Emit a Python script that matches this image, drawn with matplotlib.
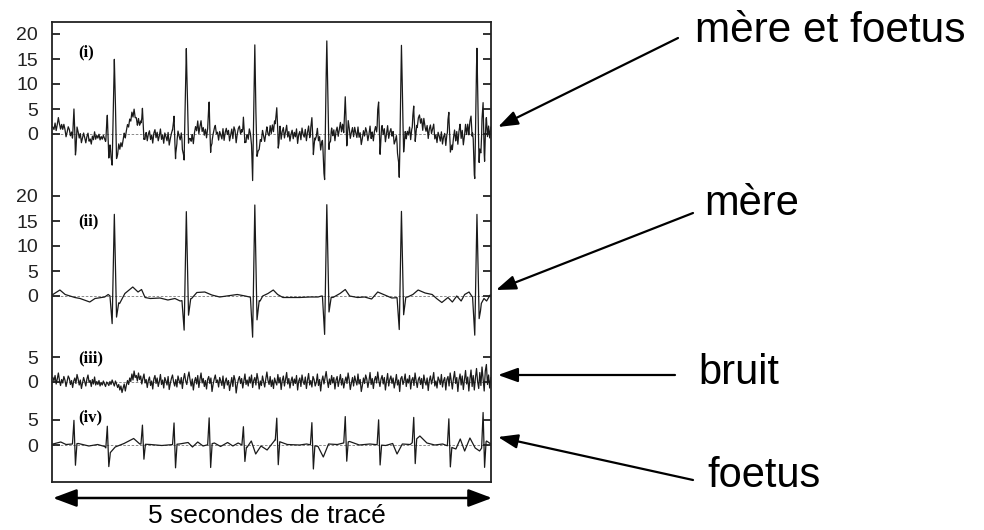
import numpy as np
import matplotlib
matplotlib.use('Agg')
import matplotlib.pyplot as plt

plt.rcParams['font.family'] = ['Liberation Sans', 'DejaVu Sans']

# Battements maternels : instant (s), pic R, creux Q et S
mere_t = [0.71, 1.53, 2.31, 3.13, 3.98, 4.84]
mere_r = [17.0, 17.6, 18.8, 18.4, 17.2, 17.4]
mere_q = [-5.2, -6.0, -7.8, -7.6, -6.4, -7.2]
mere_s = [-3.2, -3.2, -4.0, -3.0, -3.5, -3.0]

# Ligne de base maternelle (dérive lente)
mere_base_t = [0.01, 0.09, 0.15, 0.26, 0.32, 0.43, 0.49, 0.60, 0.64, 0.77,
               0.83, 0.92, 0.98, 1.02, 1.06, 1.12, 1.23, 1.32, 1.40, 1.46,
               1.59, 1.65, 1.74, 1.82, 1.91, 2.03, 2.11, 2.20, 2.25, 2.37,
               2.40, 2.46, 2.52, 2.57, 2.63, 2.71, 2.82, 2.94, 3.03, 3.07,
               3.20, 3.28, 3.34, 3.39, 3.48, 3.56, 3.64, 3.71, 3.79, 3.87,
               4.05, 4.11, 4.17, 4.25, 4.33, 4.38, 4.44, 4.51, 4.56, 4.61,
               4.66, 4.70, 4.75, 4.78, 4.88, 4.92, 4.95, 4.99]
mere_base_y = [0.3, 1.2, 0.3, -0.3, -0.5, -1.2, -0.5, -0.2, 0.3, -1.5,
               0.5, 1.8, 0.8, 1.3, -0.3, -0.5, -0.4, -0.8, -0.5, -1.0,
               -0.5, 0.7, 0.8, 0.2, -0.2, 0.1, 0.3, 0.0, -0.2, -1.0,
               0.0, 0.5, 1.2, 0.3, -0.3, -0.3, -0.3, -0.2, -0.2, 0.0,
               -0.3, 0.5, 1.3, 0.0, -0.3, -0.2, -0.6, 0.8, 0.2, -0.4,
               -0.2, 0.3, 1.2, 0.6, 0.3, -0.5, -1.3, -0.3, -1.2, 0.0,
               -1.0, 0.3, 0.8, 0.0, -1.8, -0.5, -1.0, 0.2]

# Battements foetaux : instant (s), pic R, creux S
foetus_t = [0.25, 0.63, 1.03, 1.39, 1.79, 2.18, 2.56, 2.96, 3.34, 3.72,
            4.12, 4.52, 4.91]
foetus_r = [4.7, 4.7, 3.8, 4.3, 5.3, 3.8, 4.5, 4.5, 5.2, 5.0, 4.8, 5.5, 6.7]
foetus_s = [-4.3, -3.0, -3.0, -4.7, -4.7, -3.0, -4.7, -4.7, -3.8, -4.0,
            -4.7, -4.0, -4.7]

foetus_base_t = [0.01, 0.10, 0.16, 0.30, 0.42, 0.52, 0.60, 0.66, 0.72, 0.82,
                 0.93, 1.00, 1.12, 1.25, 1.45, 1.55, 1.60, 1.66, 1.72, 1.85,
                 1.92, 2.00, 2.06, 2.12, 2.22, 2.27, 2.32, 2.38, 2.45, 2.54,
                 2.68, 2.82, 2.90, 3.03, 3.09, 3.15, 3.25, 3.39, 3.50, 3.62,
                 3.80, 3.88, 3.93, 3.99, 4.08, 4.19, 4.27, 4.36, 4.45, 4.60,
                 4.65, 4.70, 4.76, 4.82, 4.87, 4.95, 4.99]
foetus_base_y = [0.2, 0.6, 0.1, 0.3, -0.2, 0.1, -0.3, -1.6, -0.4, 0.3,
                 1.3, 0.2, 0.1, -0.1, 0.2, 0.5, -0.4, 0.6, -0.2, 0.4,
                 -0.3, 0.5, -0.2, 0.4, -0.5, 0.8, -1.8, -0.2, -1.0, 1.0,
                 0.1, 0.0, 0.2, -0.3, -2.4, 0.2, 0.1, 0.7, 0.0, 0.2,
                 -0.1, 0.3, -1.8, 0.2, 0.1, 1.8, 0.4, 0.0, 0.2, -0.8,
                 1.2, -1.2, 1.4, -0.6, -1.2, 0.8, 0.3]

# Bruit, un échantillon toutes les 12,5 ms à partir de 10 ms
bruit = [0.9, 0.2, 1.3, -0.4, 0.6, 1.8, 0.3, -0.7, 0.5, -0.2, 1.1, 0.4, -0.9, 0.1, 1.2, 0.7, -0.5, 0.3, -1.1, 0.2,
         0.8, -0.3, 1.5, 0.6, -0.6, 0.4, -1.3, -0.2, 0.9, 0.1, -0.8, 0.6, 1.4, -0.1, 0.3, -0.9, 0.5, -0.4, 1.0, -0.6,
         0.1, -0.5, 0.3, -0.8, -0.1, -0.6, 0.2, -0.4, -0.9, 0.0, -0.3, -0.7, 0.1, -0.5, 0.4, -0.2, -0.8, 0.2, -0.4, -1.1,
         -0.5, -1.6, -0.8, -2.1, -1.2, -0.4, -1.8, -0.6, 0.3, -0.5, 0.8, 0.1, 1.6, 0.4, 2.2, 0.9, 1.3, 0.2, 1.8, 0.5,
         1.2, -0.4, 0.7, 1.6, -0.2, 0.5, -1.1, 0.3, 1.0, -0.7, 0.2, -1.4, 0.6, 1.3, -0.3, 0.8, -0.9, 0.1, 1.5, -0.5,
         0.4, -1.2, 0.9, 0.2, -0.6, 1.1, -1.5, -0.3, 0.7, 1.4, 0.0, -0.8, 0.5, -1.0, 1.2, 0.3, -0.4, 0.9, -1.3, 0.6,
         1.7, 0.2, -0.5, 1.0, 2.0, 0.4, -0.8, 0.6, -1.6, 0.1, 0.9, -0.4, 1.3, -1.1, 0.5, 1.8, -0.2, 0.7, -0.9, 0.3,
         -1.4, 0.5, 1.1, -0.3, 0.8, -1.9, -0.5, 0.6, 1.4, -0.1, 0.4, -1.0, 0.9, 0.2, -0.7, 1.2, -1.3, 0.1, 0.8, -0.6,
         0.3, -1.7, -0.4, 0.9, -0.9, 1.3, 0.4, -2.2, -0.6, 0.5, 1.1, -0.3, 0.7, -1.2, 0.2, 1.6, -0.5, 0.4, -0.8, 1.0,
         -0.2, 1.4, -1.1, 0.3, 0.9, -0.6, 1.7, 0.5, -1.4, 0.2, -0.7, 1.2, 0.1, -1.0, 0.6, 2.0, 0.3, -0.5, 1.1, -0.9,
         0.4, -1.3, 0.8, 0.0, -0.6, 1.5, -0.2, 0.9, -1.5, 0.3, 1.2, -0.8, 0.5, 1.9, -0.4, 0.7, -1.2, 0.2, 1.0, -0.7,
         0.6, -0.3, 1.3, -1.6, 0.2, 0.8, -0.9, 1.4, 0.1, -0.5, 1.0, -1.3, 0.4, 1.7, -0.6, 0.3, -1.0, 1.1, 0.5, -0.8,
         -0.1, 1.6, -0.7, 0.5, -1.8, 0.2, 1.2, -0.4, 0.8, 2.1, 0.3, -1.1, 0.6, -0.5, 1.3, -0.2, 0.9, -1.4, 0.4, 1.1,
         -0.9, 0.3, 1.5, -0.6, 0.7, -1.2, 0.1, 1.0, -0.3, 1.8, 0.4, -1.5, -0.2, 0.9, -0.8, 1.2, 0.2, -0.6, 1.6, -0.4,
         0.5, -1.9, -0.7, 0.8, -0.3, 1.4, 0.6, -1.1, 0.2, 1.9, -0.5, 0.7, -1.3, 0.4, 1.1, -0.2, 2.0, 0.3, -0.9, 0.6,
         1.3, -0.4, 0.9, -1.6, 0.2, 1.7, -0.8, 0.5, 1.2, -0.3, 0.8, -1.2, 0.0, 1.5, -0.6, 0.4, -1.9, 0.7, 1.1, -0.5,
         0.3, 1.6, -0.9, 0.6, -0.2, 1.3, -1.4, 0.4, 0.9, -0.7, 1.8, 0.2, -1.1, 0.5, 1.0, -0.5, 0.7, -1.3, 1.4, 0.1,
         -0.6, 0.8, -1.7, 0.3, 1.2, -0.4, 0.6, 1.9, -0.8, 0.2, -1.2, 1.0, 0.4, -0.5, 1.5, -1.0, 0.3, 0.9, -1.6, 0.5,
         1.1, -0.8, 1.8, 0.2, -1.4, 0.7, 2.1, -0.3, 0.9, -1.9, 0.4, 1.6, -0.6, 1.2, -1.5, 0.5, 2.3, -0.4, 1.0, -1.8,
         0.6, 2.4, -0.9, 1.3, -1.6, 0.8, 2.7, 0.1, -1.3, 1.9, -0.7, 3.0, 0.6, -1.8, 2.2, 3.5, -0.5, 1.4, -1.2, 0.9]

graduations = {'(i)': [0, 5, 10, 15, 20], '(ii)': [0, 5, 10, 15, 20],
               '(iii)': [0, 5], '(iv)': [0, 5]}
# position verticale du zéro de chaque tracé
decalage = {'(i)': 69.6, '(ii)': 37.2, '(iii)': 20.0, '(iv)': 7.4}


def complexes(instants, pics, creux_q, creux_s, largeur):
    """Polyligne des complexes QRS, nulle entre les battements."""
    t, y = [0.0], [0.0]
    for tc, r, q, s in zip(instants, pics, creux_q, creux_s):
        t += [tc - 2 * largeur, tc - largeur, tc, tc + largeur, tc + 2 * largeur]
        y += [0.0, q, r, s, 0.0]
    t.append(5.0)
    y.append(0.0)
    return np.array(t), np.array(y)


def somme(*traces):
    grille = np.unique(np.concatenate([t for t, _ in traces]))
    return grille, sum(np.interp(grille, t, y) for t, y in traces)


mere = somme(complexes(mere_t, mere_r, mere_q, mere_s, 0.025),
             (np.array(mere_base_t), np.array(mere_base_y)))
foetus = somme(complexes(foetus_t, foetus_r, [0.0] * len(foetus_t), foetus_s, 0.017),
               (np.array(foetus_base_t), np.array(foetus_base_y)))
bruit_t = 0.01 + 0.0125 * np.arange(len(bruit))
signal_bruit = (bruit_t, np.array(bruit))
total = somme(mere, signal_bruit, foetus)

traces = {'(i)': total, '(ii)': mere, '(iii)': signal_bruit, '(iv)': foetus}
pos_etiquette = {'(i)': 86.0, '(ii)': 52.2, '(iii)': 24.8, '(iv)': 13.0}

fig = plt.figure(figsize=(9.84, 5.30), dpi=100)
ax = fig.add_axes([52 / 984, 48 / 530, 439 / 984, 460 / 530])

yticks, ylabels = [], []
for nom, (t, y) in traces.items():
    d = decalage[nom]
    ax.axhline(d, color='#777777', lw=0.6, dashes=(3, 2), zorder=1)
    ax.plot(t, y + d, color='#1a1a1a', lw=0.9, zorder=2)
    ax.text(0.30, pos_etiquette[nom], nom, family='Liberation Serif',
            fontweight='bold', fontsize=12, va='center', ha='left')
    for v in graduations[nom]:
        yticks.append(d + v)
        ylabels.append(str(v))

ax.set_xlim(0, 5)
ax.set_ylim(0, 92)
ax.set_xticks([])
ax.set_yticks(yticks, ylabels)
ax.tick_params(axis='y', direction='in', length=6, width=1.3, left=True,
               right=True, labelsize=14, pad=10, colors='#222222')
for sp in ax.spines.values():
    sp.set_linewidth(1.3)
    sp.set_color('#222222')

# calque en pixels pour les légendes et les flèches
over = fig.add_axes([0, 0, 1, 1])
over.set_xlim(0, 984)
over.set_ylim(530, 0)
over.axis('off')

fleche = dict(arrowstyle='-|>,head_length=1.0,head_width=0.36', lw=1.6,
              color='black', mutation_scale=12, shrinkA=0, shrinkB=0)
over.annotate('', xy=(498, 127), xytext=(678, 38), arrowprops=fleche)
over.annotate('', xy=(496, 290), xytext=(693, 213), arrowprops=fleche)
over.annotate('', xy=(498, 375), xytext=(675, 375), arrowprops=fleche)
over.annotate('', xy=(498, 437), xytext=(693, 480), arrowprops=fleche)

over.text(695, 42, 'mère et foetus', fontsize=30.5, va='baseline')
over.text(704, 215, 'mère', fontsize=30, va='baseline')
over.text(698, 384, 'bruit', fontsize=30, va='baseline')
over.text(707, 487, 'foetus', fontsize=30, va='baseline')

double = dict(arrowstyle='<|-|>,head_length=1.2,head_width=0.45', lw=1.8,
              color='black', mutation_scale=12, shrinkA=0, shrinkB=0)
over.annotate('', xy=(53, 498), xytext=(492, 498), arrowprops=double)
over.text(267, 523, '5 secondes de tracé', fontsize=19, ha='center',
          va='baseline')

fig.savefig('out.png', dpi=100)
